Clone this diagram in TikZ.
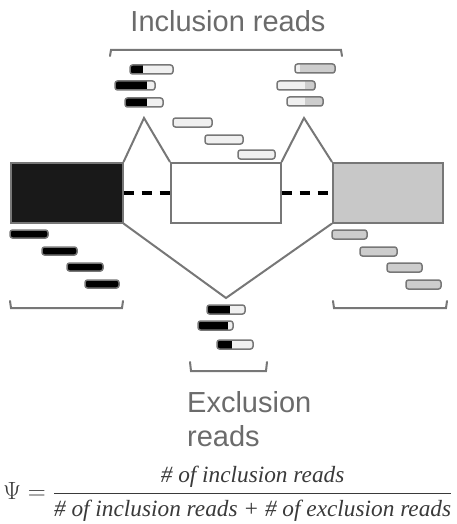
\documentclass[tikz,border=0pt]{standalone}
\usepackage{amsmath}
\usepackage{fontspec}
\setmainfont{Liberation Sans}
\newfontfamily\formfont{Liberation Serif}
\usetikzlibrary{positioning}

\definecolor{linegray}{HTML}{777777}
\definecolor{labelgray}{HTML}{6B6B6B}
\definecolor{exongray}{HTML}{C8C8C8}
\definecolor{readgray}{HTML}{CDCDCD}
\definecolor{readlight}{HTML}{F0F0F0}
\definecolor{formgray}{HTML}{3A3A3A}

\tikzset{
  exon/.style={draw=linegray, line width=1.5pt, minimum height=60pt, inner sep=0pt, anchor=north west},
  splice/.style={draw=linegray, line width=2pt},
  intron/.style={draw=black, line width=4pt, dash pattern=on 10pt off 8pt},
  bracket/.style={draw=linegray, line width=2pt, line cap=round},
  label/.style={text=labelgray, inner sep=0pt, font=\fontsize{29}{34}\selectfont},
  readbox/.style={draw=linegray, line width=1.5pt, rounded corners=2.5pt},
}

% junction read: x1, split, x2, y, left fill, right fill
\newcommand{\jread}[6]{%
  \begin{scope}
    \clip[rounded corners=2.5pt] (#1,#4) rectangle (#3,#4+9);
    \fill[#5] (#1,#4) rectangle (#2,#4+9);
    \fill[#6] (#2,#4) rectangle (#3,#4+9);
  \end{scope}
  \draw[readbox] (#1,#4) rectangle (#3,#4+9);
}

\begin{document}
\begin{tikzpicture}[x=1pt, y=-1pt]
	%\draw[help lines] (0,0) grid[step=50] (457,524);
	\useasboundingbox (0,0) rectangle (457,524);
	\node[exon, fill=black!90, minimum width=112pt] (exA) at (10,162) {};
	\node[exon, fill=white, minimum width=110pt] (exB) at (170,162) {};
	\node[exon, fill=exongray, minimum width=110pt] (exC) at (332,162) {};
	\coordinate (pkA) at (144,118);
	\coordinate (pkB) at (304,118);
	\coordinate (lowC) at (226,298);
	\draw[intron] (exA.east) -- (exB.west);
	\draw[intron] (exB.east) -- (exC.west);
	\draw[splice] (exA.north east) -- (pkA) -- (exB.north west);
	\draw[splice] (exB.north east) -- (pkB) -- (exC.north west);
	\draw[splice] (exA.south east) -- (lowC) -- (exC.south west);
	% reads on the exons
	\draw[readbox, fill=black] (10,230) rectangle (48,238);
	\draw[readbox, fill=black] (42,247) rectangle (77,255);
	\draw[readbox, fill=black] (67,263) rectangle (103,271);
	\draw[readbox, fill=black] (85,280) rectangle (119,288);
	\draw[readbox, fill=readlight] (173,118) rectangle (212,127);
	\draw[readbox, fill=readlight] (205,135) rectangle (243,144);
	\draw[readbox, fill=readlight] (238,150) rectangle (275,159);
	\draw[readbox, fill=readgray] (332,230) rectangle (367,239);
	\draw[readbox, fill=readgray] (360,247) rectangle (397,256);
	\draw[readbox, fill=readgray] (387,263) rectangle (422,272);
	\draw[readbox, fill=readgray] (406,280) rectangle (441,289);
	% reads over the junctions
	\jread{130}{143}{173}{65}{black}{readlight}
	\jread{115}{147}{155}{81}{black}{readlight}
	\jread{125}{147}{163}{98}{black}{readlight}
	\jread{295}{300}{335}{64}{readlight}{readgray}
	\jread{277}{305}{315}{81}{readlight}{readgray}
	\jread{287}{305}{323}{97}{readlight}{readgray}
	\jread{207}{230}{245}{305}{black}{readlight}
	\jread{198}{228}{233}{321}{black}{readlight}
	\jread{217}{232}{253}{340}{black}{readlight}
	% brackets
	\draw[bracket] (110,56) -- (111,50) -- (341,50) -- (342,56);
	\draw[bracket] (10,301) -- (11,308) -- (122,308) -- (123,301);
	\draw[bracket] (333,301) -- (334,308) -- (446,308) -- (447,301);
	\draw[bracket] (190,362) -- (191,371) -- (266,371) -- (267,362);
	\node[label, anchor=base] (incl) at (228,32) {Inclusion reads};
	\node[label, align=left, anchor=north west] (excl) at (187,391) {Exclusion\\reads};
	\node[anchor=west, inner sep=0pt, text=formgray, font=\fontsize{23.3}{26}\selectfont] (psi) at (3,494)
	  {$\Psi = \dfrac{\text{\formfont\itshape\# of inclusion reads}}{\text{\formfont\itshape\# of inclusion reads + \# of exclusion reads}}$};
\end{tikzpicture}
\end{document}
